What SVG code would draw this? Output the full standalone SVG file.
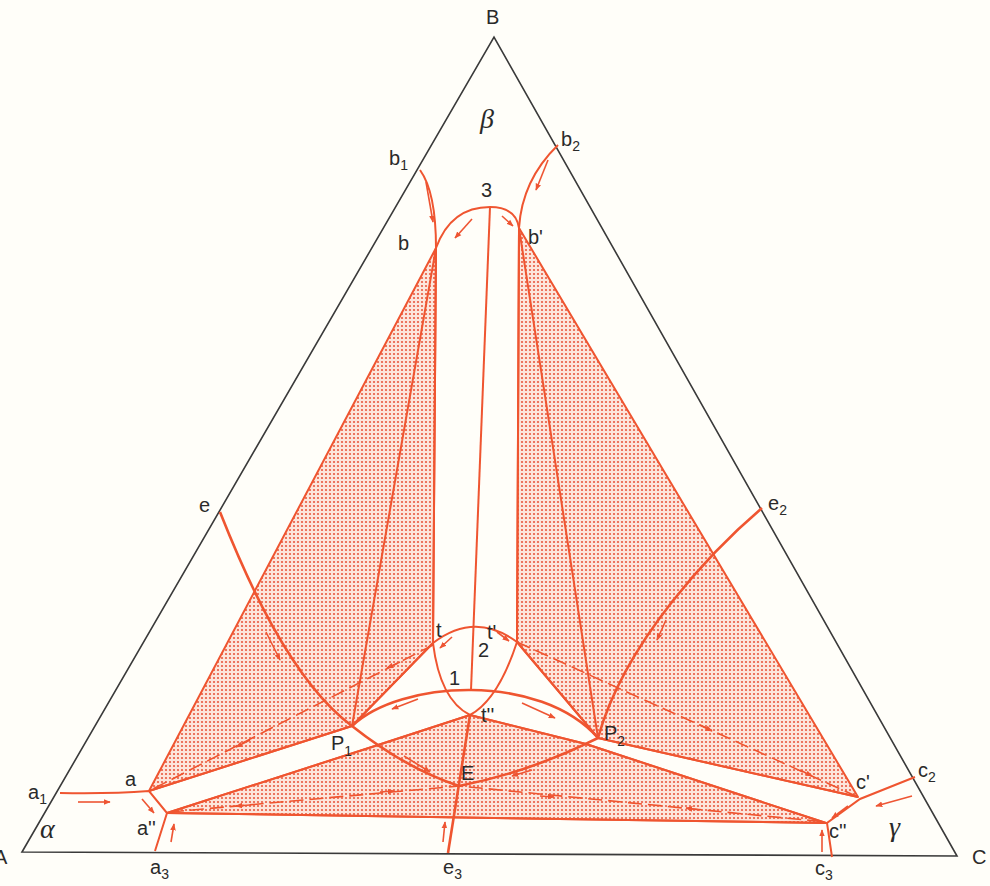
<svg xmlns="http://www.w3.org/2000/svg" width="990" height="886" viewBox="0 0 990 886">
<defs>
<pattern id="dots" width="4" height="4" patternUnits="userSpaceOnUse"><rect width="4" height="4" fill="#fde6dc"/><circle cx="2" cy="2" r="1.1" fill="#e95a40"/></pattern>
<marker id="ah" viewBox="0 0 10 10" refX="9" refY="5" markerWidth="7" markerHeight="7" orient="auto" markerUnits="userSpaceOnUse"><path d="M0,1 L10,5 L0,9 Z" fill="#ee5533"/></marker>
</defs>
<style>
.frame{fill:none;stroke:#3a3a3a;stroke-width:1.6}
.r{fill:none;stroke:#ef5530;stroke-width:2}
.rt{fill:none;stroke:#ef5530;stroke-width:2.6}
.rd{fill:none;stroke:#ef5530;stroke-width:1.6;stroke-dasharray:14 6}
.sh{fill:url(#dots);stroke:#ef5530;stroke-width:2;stroke-linejoin:round}
.ar{fill:none;stroke:#ee5533;stroke-width:1.6;marker-end:url(#ah)}
.lb{font-family:"Liberation Sans","DejaVu Sans",sans-serif;font-size:20px;fill:#2a2a2a}
.gk{font-family:"Liberation Serif","DejaVu Serif",serif;font-style:italic;font-size:28px;fill:#2a2a2a}
.sub{font-size:14px}
</style>
<rect width="990" height="886" fill="#fffef9"/>

<g id="shaded">
<polygon id="region-left" class="sh" points="436,248 149,791 352,726 433,643"/>
<polygon id="region-right" class="sh" points="519,228 517,642 598,738 858,797"/>
<polygon id="region-bottom" class="sh" points="167,813 378,745 470,715 586,744 826,823"/>
</g>

<g id="triangle">
<polygon class="frame" points="22,852 494,37 957,856"/>
</g>

<g id="connectors">
<path class="r" d="M420,170 Q436,192 436,248 L433,643"/>
<path class="r" d="M558,145 Q522,180 519,228 L517,642"/>
<path class="r" d="M436,248 C448,215 470,207 490,207 C508,207 517,215 519,228"/>
<path class="r" d="M490,207 L471,690"/>
<path class="r" d="M436,248 L352,726"/>
<path class="r" d="M519,228 L598,738"/>
<path class="r" d="M352,726 L433,643"/>
<path class="r" d="M598,738 L517,642"/>
<path class="r" d="M149,791 L352,726"/>
<path class="r" d="M167,813 L378,745"/>
<path class="r" d="M598,738 L858,797"/>
<path class="r" d="M586,744 L826,823"/>
<path class="r" d="M167,813 L826,823"/>
<path class="r" d="M433,643 Q475,611 517,642"/>
<path class="r" d="M433,643 Q440,700 470,715"/>
<path class="r" d="M517,642 Q498,700 470,715"/>
<path class="rt" d="M352,726 C400,680 540,672 598,738"/>
<path class="r" d="M378,745 L470,715 L586,744"/>
<path class="rt" d="M220,512 C245,575 290,680 352,726 Q405,768 459,786"/>
<path class="rt" d="M762,508 C715,548 625,640 598,738 Q530,772 459,786"/>
<path class="rt" d="M470,715 L448,853"/>
<path class="rd" d="M433,645 L149,791"/>
<path class="rd" d="M517,642 L858,797"/>
<path class="rd" d="M170,812 L459,786 L826,822"/>
<path class="r" d="M60,793 Q110,794 149,791 L167,813 L155,851"/>
<path class="r" d="M915,777 L860,799 L827,823 L832,857"/>
</g>

<g id="arrows">
<path class="ar" d="M426,182 L433,222"/>
<path class="ar" d="M548,160 L536,190"/>
<path class="ar" d="M472,219 L455,238"/>
<path class="ar" d="M502,216 L513,226"/>
<path class="ar" d="M452,637 L440,648"/>
<path class="ar" d="M497,632 L509,641"/>
<path class="ar" d="M418,699 L392,709"/>
<path class="ar" d="M522,703 L555,718"/>
<path class="ar" d="M266,632 L280,660"/>
<path class="ar" d="M404,756 L430,772"/>
<path class="ar" d="M666,620 L657,640"/>
<path class="ar" d="M532,770 L512,776"/>
<path class="ar" d="M443,842 L445,822"/>
<path class="ar" d="M78,802 L110,802"/>
<path class="ar" d="M142,799 L154,813"/>
<path class="ar" d="M171,842 L174,824"/>
<path class="ar" d="M912,796 L876,806"/>
<path class="ar" d="M848,806 L832,818"/>
<path class="ar" d="M822,852 L822,830"/>
<path class="ar" d="M400,662 L387,668"/>
<path class="ar" d="M250,740 L236,747"/>
<path class="ar" d="M700,725 L712,731"/>
<path class="ar" d="M800,770 L812,776"/>
<path class="ar" d="M250,805 L236,806"/>
<path class="ar" d="M380,792 L394,791"/>
<path class="ar" d="M540,796 L554,797"/>
<path class="ar" d="M700,810 L686,808"/>
</g>

<g id="labels">
<text class="lb" x="486" y="24">B</text>
<text class="lb" x="-6" y="864">A</text>
<text class="lb" x="972" y="864">C</text>
<text class="gk" x="480" y="128">β</text>
<text class="gk" x="40" y="838">α</text>
<text class="gk" x="889" y="836">γ</text>
<text class="lb" x="389" y="165">b<tspan class="sub" dy="5">1</tspan></text>
<text class="lb" x="561" y="146">b<tspan class="sub" dy="5">2</tspan></text>
<text class="lb" x="481" y="197">3</text>
<text class="lb" x="398" y="250">b</text>
<text class="lb" x="528" y="244">b'</text>
<text class="lb" x="199" y="512">e</text>
<text class="lb" x="768" y="510">e<tspan class="sub" dy="5">2</tspan></text>
<text class="lb" x="436" y="637">t</text>
<text class="lb" x="487" y="639">t'</text>
<text class="lb" x="478" y="657">2</text>
<text class="lb" x="449" y="685">1</text>
<text class="lb" x="481" y="722">t''</text>
<text class="lb" x="331" y="750">P<tspan class="sub" dy="6">1</tspan></text>
<text class="lb" x="604" y="740">P<tspan class="sub" dy="6">2</tspan></text>
<text class="lb" x="461" y="780">E</text>
<text class="lb" x="28" y="799">a<tspan class="sub" dy="5">1</tspan></text>
<text class="lb" x="125" y="786">a</text>
<text class="lb" x="137" y="835">a''</text>
<text class="lb" x="150" y="874">a<tspan class="sub" dy="5">3</tspan></text>
<text class="lb" x="443" y="874">e<tspan class="sub" dy="5">3</tspan></text>
<text class="lb" x="856" y="789">c'</text>
<text class="lb" x="918" y="777">c<tspan class="sub" dy="5">2</tspan></text>
<text class="lb" x="829" y="838">c''</text>
<text class="lb" x="815" y="875">c<tspan class="sub" dy="5">3</tspan></text>
</g>
</svg>
